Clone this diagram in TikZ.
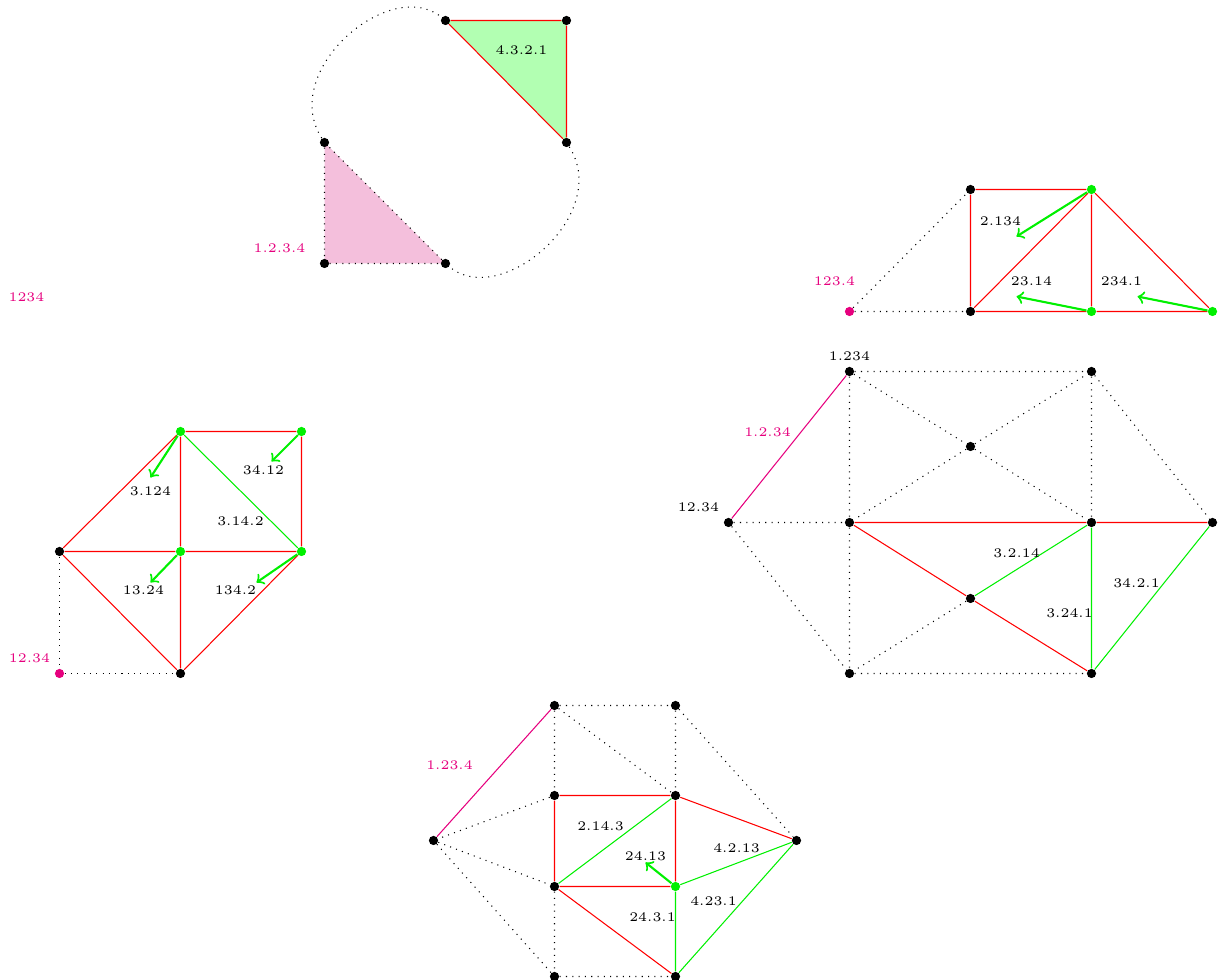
\documentclass[tikz,border=0pt]{standalone}
\usepackage{xcolor}
\usepackage{tikz}
\usetikzlibrary{backgrounds}
\definecolor{flipink}{HTML}{E6007E}
\definecolor{fligreen}{HTML}{00F000}

\begin{document}
\begin{tikzpicture}[
    x=0.38pt, y=-0.38pt,
    vtx/.style={circle, fill=black, inner sep=0pt, minimum size=3.5pt},
    vgreen/.style={vtx, fill=fligreen},
    vpink/.style={vtx, fill=flipink},
    lab/.style={font=\tiny, inner sep=0pt},
    plab/.style={lab, text=flipink},
    red edge/.style={draw=red, line width=0.4pt},
    green edge/.style={draw=fligreen, line width=0.4pt},
    pink edge/.style={draw=flipink, line width=0.4pt},
    dot edge/.style={draw=black, dotted, line width=0.4pt},
    move/.style={draw=fligreen, line width=0.8pt, ->}
    ]
    \useasboundingbox (-0.5,-0.5) rectangle (1218.5,979.5);

    % top triangles
    \node[vtx] (a1) at (324,142) {};
    \node[vtx] (a2) at (324,263) {};
    \node[vtx] (a3) at (445,263) {};
    \node[vtx] (b1) at (445,20) {};
    \node[vtx] (b2) at (566,20) {};
    \node[vtx] (b3) at (566,142) {};
    \begin{scope}[on background layer]
      \fill[flipink!24!white!96!gray] (a1.center) -- (a2.center) -- (a3.center) -- cycle;
      \fill[green!30] (b1.center) -- (b2.center) -- (b3.center) -- cycle;
    \end{scope}
    \draw[dot edge] (a1) -- (a2) -- (a3) -- (a1);
    \draw[red edge] (b1) -- (b2) -- (b3) -- (b1);
    \draw[dot edge] (a1) .. controls (278,70) and (390,-25) .. (b1);
    \draw[dot edge] (b3) .. controls (612,214) and (500,309) .. (a3);
    \node[lab] (lb4321) at (521,50) {4.3.2.1};
    \node[plab] (lb1p2p3p4) at (279,248) {1.2.3.4};
    \node[plab] (lb1234) at (26,297) {1234};

    % top right
    \node[vpink] (c0) at (849,311) {};
    \node[vtx] (c1) at (970,189) {};
    \node[vtx] (c2) at (970,311) {};
    \node[vgreen] (c3) at (1091,189) {};
    \node[vgreen] (c4) at (1091,311) {};
    \node[vgreen] (c5) at (1212,311) {};
    \coordinate (c3end) at (1016,236);
    \coordinate (c4end) at (1016,296);
    \coordinate (c5end) at (1137,296);
    \draw[dot edge] (c0) -- (c1) (c0) -- (c2);
    \draw[red edge] (c1) -- (c2) (c1) -- (c3) (c2) -- (c3) (c3) -- (c4) (c2) -- (c4) (c4) -- (c5) (c3) -- (c5);
    \draw[move] (c3) -- (c3end);
    \draw[move] (c4) -- (c4end);
    \draw[move] (c5) -- (c5end);
    \node[lab] (lc2134) at (1000,221) {2.134};
    \node[lab] (lc2314) at (1031,281) {23.14};
    \node[lab] (lc2341) at (1121,281) {234.1};
    \node[plab] (lc1234) at (834,281) {123.4};

    % middle right
    \node[vtx] (d1) at (849,371) {};
    \node[vtx] (d2) at (1091,371) {};
    \node[vtx] (d3) at (970,446) {};
    \node[vtx] (d4) at (728,522) {};
    \node[vtx] (d5) at (849,522) {};
    \node[vtx] (d6) at (1091,522) {};
    \node[vtx] (d7) at (1212,522) {};
    \node[vtx] (d8) at (970,598) {};
    \node[vtx] (d9) at (849,673) {};
    \node[vtx] (d10) at (1091,673) {};
    \draw[dot edge] (d1) -- (d2) (d1) -- (d5) (d1) -- (d3) (d3) -- (d6) (d3) -- (d5) (d3) -- (d2) (d2) -- (d6) (d2) -- (d7);
    \draw[dot edge] (d4) -- (d5) (d4) -- (d9) (d5) -- (d9) (d8) -- (d9) (d9) -- (d10);
    \draw[pink edge] (d4) -- (d1);
    \draw[red edge] (d5) -- (d6) (d6) -- (d7) (d5) -- (d8) (d8) -- (d10);
    \draw[green edge] (d8) -- (d6) (d6) -- (d10) (d10) -- (d7);
    \node[lab] (ld1234) at (849,356) {1.234};
    \node[plab] (ld1p2p34) at (767,432) {1.2.34};
    \node[lab] (ld1234b) at (698,507) {12.34};
    \node[lab] (ld3214) at (1016,553) {3.2.14};
    \node[lab] (ld3421) at (1136,583) {34.2.1};
    \node[lab] (ld3241) at (1069,613) {3.24.1};

    % left
    \node[vtx] (e1) at (59,551) {};
    \node[vgreen] (e2) at (180,431) {};
    \node[vgreen] (e3) at (301,431) {};
    \node[vgreen] (e4) at (180,551) {};
    \node[vgreen] (e5) at (301,551) {};
    \node[vpink] (e6) at (59,673) {};
    \node[vtx] (e7) at (180,673) {};
    \coordinate (e2end) at (150,477);
    \coordinate (e3end) at (271,461);
    \coordinate (e4end) at (150,582);
    \coordinate (e5end) at (256,582);
    \draw[dot edge] (e1) -- (e6) -- (e7);
    \draw[red edge] (e2) -- (e3) (e3) -- (e5) (e1) -- (e2) (e2) -- (e4) (e1) -- (e4) (e4) -- (e5) (e1) -- (e7) (e4) -- (e7) (e5) -- (e7);
    \draw[green edge] (e2) -- (e5);
    \draw[move] (e2) -- (e2end);
    \draw[move] (e3) -- (e3end);
    \draw[move] (e4) -- (e4end);
    \draw[move] (e5) -- (e5end);
    \node[lab] (le3124) at (150,491) {3.124};
    \node[lab] (le3412) at (263,470) {34.12};
    \node[lab] (le3142) at (240,521) {3.14.2};
    \node[lab] (le1324) at (143,590) {13.24};
    \node[lab] (le1342) at (235,590) {134.2};
    \node[plab] (le1234) at (29,658) {12.34};

    % bottom
    \node[vtx] (f1) at (554,705) {};
    \node[vtx] (f2) at (675,705) {};
    \node[vtx] (f3) at (554,795) {};
    \node[vtx] (f4) at (675,795) {};
    \node[vtx] (f5) at (433,840) {};
    \node[vtx] (f6) at (796,840) {};
    \node[vtx] (f7) at (554,886) {};
    \node[vgreen] (f8) at (675,886) {};
    \node[vtx] (f9) at (554,976) {};
    \node[vtx] (f10) at (675,976) {};
    \coordinate (f8end) at (645,862);
    \draw[dot edge] (f1) -- (f2) (f1) -- (f3) (f1) -- (f4) (f2) -- (f4) (f2) -- (f6) (f3) -- (f5);
    \draw[dot edge] (f5) -- (f7) (f5) -- (f9) (f7) -- (f9) (f9) -- (f10);
    \draw[pink edge] (f5) -- (f1);
    \draw[red edge] (f3) -- (f4) (f3) -- (f7) (f4) -- (f8) (f4) -- (f6) (f7) -- (f8) (f7) -- (f10);
    \draw[green edge] (f7) -- (f4) (f8) -- (f6) (f8) -- (f10) (f6) -- (f10);
    \draw[move] (f8) -- (f8end);
    \node[plab] (lf1234) at (449,765) {1.23.4};
    \node[lab] (lf2143) at (600,826) {2.14.3};
    \node[lab] (lf2413) at (645,856) {24.13};
    \node[lab] (lf4213) at (736,848) {4.2.13};
    \node[lab] (lf4231) at (713,901) {4.23.1};
    \node[lab] (lf2431) at (652,917) {24.3.1};
  \end{tikzpicture}
\end{document}
